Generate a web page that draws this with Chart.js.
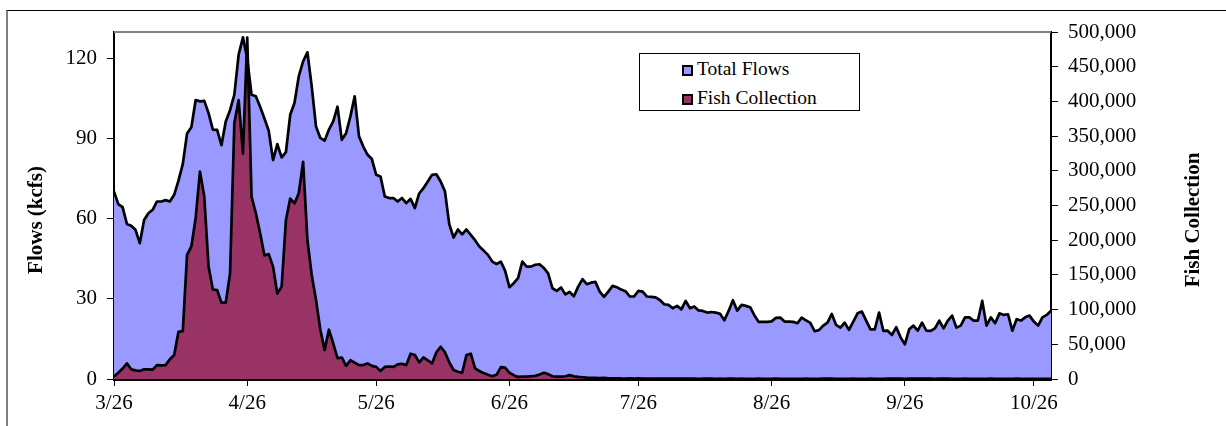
<!DOCTYPE html>
<html>
<head>
<meta charset="utf-8">
<script src="https://cdn.jsdelivr.net/npm/chart.js@4.4.0/dist/chart.umd.min.js"></script>
<style>
  body { margin: 0; background: #fff; }
  #wrap { position: relative; width: 1226px; height: 426px; overflow: hidden; }
  #chart { position: absolute; left: 0; top: 0; }
  #frame { position: absolute; left: 6px; top: 10px; width: 1300px; height: 500px;
           border-top: 1px solid #000; border-left: 2px solid #808080; }
  #legend { position: absolute; left: 639px; top: 53px; width: 219px; height: 56px;
            border: 1px solid #000; background: #fff; font-family: "Liberation Serif", serif; font-size: 19.5px; }
  .item { position: absolute; left: 42px; height: 22px; line-height: 22px; white-space: nowrap; color: #000; }
  .box { display: inline-block; width: 11px; height: 11px; box-sizing: border-box; border: 2px solid #000;
         vertical-align: -1px; margin-right: 4px; }
</style>
</head>
<body>
<div id="wrap">
  <div id="frame"></div>
  <canvas id="chart" width="1226" height="426"></canvas>
  <div id="legend"></div>
</div>
<script>
// daily values from 3/26 through 10/30
const flows = [
  70.2, 65.5, 64.4, 58.1, 57.4, 55.9, 50.9, 59.6, 62.1, 63.4,
  66.5, 66.5, 67, 66.5, 69, 74.3, 80.5, 92, 94.3, 104.5,
  104, 104.2, 99.6, 93.4, 93.3, 87.6, 96.5, 100.7, 106.5, 121.5,
  128, 120, 106.5, 105.9, 102, 97.6, 93, 82, 88, 83,
  85, 99, 103.5, 113.5, 119, 122.4, 109.6, 94.6, 90.3, 89.3,
  93.4, 96.5, 102, 89.6, 92.1, 98.4, 105.9, 90.9, 87.1, 84,
  82.4, 76.5, 75.9, 68.4, 67.8, 67.8, 66.5, 67.8, 65.9, 67.5,
  64, 69.5, 71.5, 74, 76.5, 76.7, 74, 70.3, 58, 53,
  56, 54.2, 56, 54, 52, 49.6, 48.1, 46.5, 44, 43.1,
  44, 40.5, 34.4, 35.9, 37.8, 44, 42.1, 42.1, 42.8, 43,
  41.6, 39.6, 34, 33, 34.3, 31.7, 32.6, 31, 34.6, 37.4,
  35.5, 36.1, 36.4, 32.75, 30.8, 32.75, 34.9, 34.4, 33.5, 32.9,
  30.9, 30.9, 33, 32.75, 30.9, 30.8, 30.6, 29.6, 28, 27.75,
  26.5, 27.4, 26.1, 29.25, 26.5, 27.2, 25.7, 25.5, 24.9, 25.1,
  24.9, 24.4, 22, 25.5, 29.5, 25.6, 27.75, 27.4, 26.9, 23.8,
  21.4, 21.4, 21.4, 21.6, 22.9, 23, 21.5, 21.5, 21.4, 20.9,
  23, 22, 21, 17.9, 18.3, 20, 21.1, 24.4, 20.25, 19.25,
  21.1, 18.4, 21.5, 24.6, 25.25, 21.9, 18.6, 18.6, 24.9, 18,
  18.1, 16.5, 19.4, 15.6, 13, 18.6, 20, 18.1, 21.1, 18.1,
  18, 19, 21.9, 19, 21.9, 23.75, 19.25, 20, 23.1, 23.1,
  21.9, 21.9, 29.25, 20, 23.1, 20.9, 24.6, 24, 24.25, 18.1,
  22.4, 21.9, 23.1, 23.75, 21.5, 20, 23.1, 24, 25.6
];
const fish = [
  3500, 9000, 15000, 22500, 14000, 12500, 11500, 14000, 14000, 13500,
  20000, 19500, 20000, 28500, 34500, 68000, 69000, 179000, 191000, 232000,
  299000, 263000, 162000, 129000, 128000, 110000, 110000, 152000, 369000, 402000,
  325000, 492000, 263000, 239000, 210000, 178000, 180000, 162000, 123000, 133000,
  229000, 260000, 253000, 268000, 313000, 200000, 150000, 114000, 71000, 42000,
  71000, 51500, 30000, 31000, 19000, 27000, 23500, 20000, 20000, 22500,
  19000, 17500, 11500, 17500, 18000, 17500, 21000, 22000, 20000, 36500,
  34500, 24000, 31000, 27000, 22500, 38500, 46500, 38500, 24000, 13000,
  10500, 9000, 34500, 36500, 15500, 11500, 8500, 6000, 4000, 6000,
  17000, 16500, 9000, 5500, 3000, 3500, 3500, 4000, 4500, 6500,
  9000, 7000, 4000, 3500, 3500, 4000, 5500, 4000, 3000, 2500,
  2000, 1800, 1500, 1200, 1500, 1000, 900, 1100, 800, 700,
  900, 600, 800, 700, 500, 600, 700, 500, 400, 600,
  500, 400, 500, 600, 400, 500, 300, 400, 500, 400,
  300, 400, 300, 500, 400, 300, 400, 300, 200, 300,
  400, 300, 200, 300, 400, 300, 200, 300, 300, 200,
  300, 400, 300, 200, 300, 400, 500, 400, 300, 200,
  300, 300, 400, 300, 200, 300, 400, 300, 200, 300,
  400, 500, 600, 400, 300, 400, 500, 600, 700, 500,
  400, 300, 400, 500, 400, 300, 200, 300, 400, 300,
  200, 300, 200, 300, 400, 300, 200, 300, 200, 300,
  400, 300, 200, 300, 200, 300, 200, 300, 200
];
const monthTicks = ['3/26', '4/26', '5/26', '6/26', '7/26', '8/26', '9/26', '10/26'];
const flowTicks = [0, 30, 60, 90, 120];
const fishTicks = [0, 50000, 100000, 150000, 200000, 250000, 300000, 350000, 400000, 450000, 500000];

// one label per day starting 3/26
var dates = [];
for (let i = 0; i < flows.length; i++) {
    const d = new Date(2001, 2, 26 + i);
    dates.push((d.getMonth() + 1) + '/' + d.getDate());
}

const serif = '"Liberation Serif", "Times New Roman", serif';
Chart.defaults.font.family = serif;
Chart.defaults.color = '#000';

// axis titles and the grey top edge of the plot area
const extras = {
    id: 'extras',
    afterDraw(chart) {
        const ctx = chart.ctx, area = chart.chartArea;
        ctx.save();
        ctx.strokeStyle = '#808080';
        ctx.lineWidth = 2;
        ctx.beginPath();
        ctx.moveTo(area.left, area.top);
        ctx.lineTo(area.right, area.top);
        ctx.stroke();

        ctx.fillStyle = '#000';
        ctx.font = 'bold 21px ' + serif;
        ctx.textAlign = 'center';
        ctx.textBaseline = 'middle';
        ctx.translate(37, 220);
        ctx.rotate(-Math.PI / 2);
        ctx.fillText('Flows (kcfs)', 0, 0);
        ctx.restore();

        ctx.save();
        ctx.fillStyle = '#000';
        ctx.font = 'bold 21px ' + serif;
        ctx.textAlign = 'center';
        ctx.textBaseline = 'middle';
        ctx.translate(1194, 220);
        ctx.rotate(-Math.PI / 2);
        ctx.fillText('Fish Collection', 0, 0);
        ctx.restore();
    }
};

var chart = new Chart(document.getElementById('chart'), {
    type: 'line',
    data: {
        labels: dates,
        datasets: [{
            label: 'Total Flows',
            data: flows,
            yAxisID: 'y',
            backgroundColor: '#9999FF',
            borderColor: '#000',
            borderWidth: 2.7,
            borderJoinStyle: 'round',
            fill: 'origin',
            pointRadius: 0,
            tension: 0,
            order: 2
        }, {
            label: 'Fish Collection',
            data: fish,
            yAxisID: 'y1',
            backgroundColor: '#993366',
            borderColor: '#000',
            borderWidth: 2.7,
            borderJoinStyle: 'round',
            fill: 'origin',
            pointRadius: 0,
            tension: 0,
            order: 1
        }]
    },
    options: {
        responsive: false,
        devicePixelRatio: 1,
        animation: false,
        layout: { padding: { top: 32, left: 0, right: 0, bottom: 0 } },
        plugins: { legend: { display: false }, tooltip: { enabled: false } },
        scales: {
            x: {
                type: 'category',
                offset: false,
                z: 1,
                grid: { drawOnChartArea: false, drawTicks: true, tickLength: 7, color: '#000' },
                border: { color: '#000', width: 3 },
                ticks: {
                    autoSkip: false, maxRotation: 0, minRotation: 0, padding: 5,
                    font: { size: 21 },
                    callback: function(v) {
                        const l = this.getLabelForValue(v);
                        return monthTicks.includes(l) ? l : null;
                    }
                },
                afterFit: s => { s.height = 47; }
            },
            y: {
                position: 'left',
                min: 0, max: 130,
                z: 1,
                afterBuildTicks: s => { s.ticks = flowTicks.map(v => ({ value: v })); },
                grid: { drawOnChartArea: false, tickLength: 7, color: '#000' },
                border: { color: '#000', width: 2 },
                ticks: { padding: 10, font: { size: 21 } },
                afterFit: s => { s.width = 114; }
            },
            y1: {
                position: 'right',
                min: 0, max: 500000,
                z: 1,
                afterBuildTicks: s => { s.ticks = fishTicks.map(v => ({ value: v })); },
                grid: { drawOnChartArea: false, tickLength: 7, color: '#000' },
                border: { color: '#000', width: 2 },
                ticks: { padding: 10, font: { size: 21 }, callback: v => v.toLocaleString('en-US') },
                afterFit: s => { s.width = 175; }
            }
        }
    },
    plugins: [extras]
});

// legend box
var legend = document.getElementById('legend');
var rowTops = [4, 33];
chart.data.datasets.forEach(function(ds, i) {
    var row = document.createElement('div');
    row.className = 'item';
    row.style.top = rowTops[i] + 'px';
    var box = document.createElement('span');
    box.className = 'box';
    box.style.background = ds.backgroundColor;
    row.appendChild(box);
    row.appendChild(document.createTextNode(ds.label));
    legend.appendChild(row);
});
</script>
</body>
</html>
